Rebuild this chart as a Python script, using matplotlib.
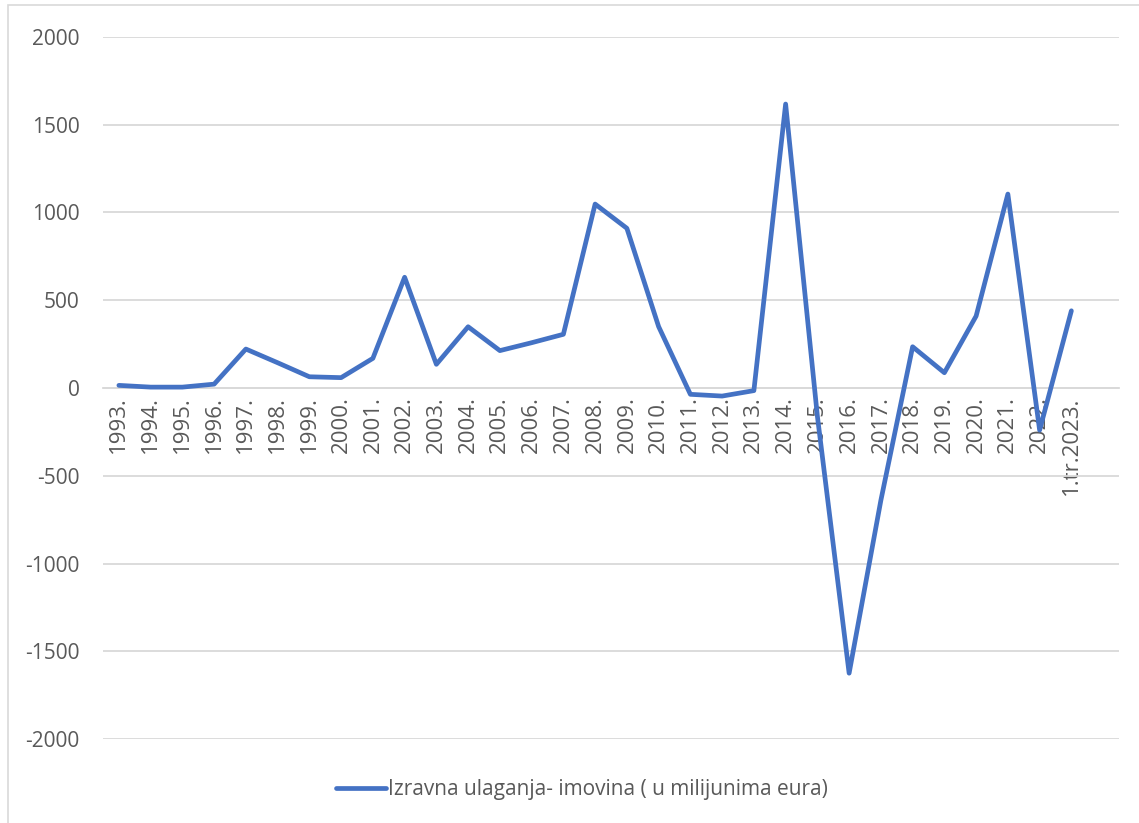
import matplotlib
matplotlib.use("Agg")
import matplotlib.pyplot as plt
from matplotlib.patches import Rectangle

categories = ["1993.", "1994.", "1995.", "1996.", "1997.", "1998.", "1999.", "2000.",
              "2001.", "2002.", "2003.", "2004.", "2005.", "2006.", "2007.", "2008.",
              "2009.", "2010.", "2011.", "2012.", "2013.", "2014.", "2015.", "2016.",
              "2017.", "2018.", "2019.", "2020.", "2021.", "2022.", "1.tr.2023."]
values = [15, 5, 5, 22, 222, 144, 64, 59, 169, 631, 135, 349, 213, 258, 306, 1048,
          910, 350, -36, -46, -15, 1618, -160, -1625, -640, 235, 87, 410, 1105, -240, 440]
series_name = "Izravna ulaganja- imovina ( u milijunima eura)"
yticks = [-2000, -1500, -1000, -500, 0, 500, 1000, 1500, 2000]

plt.rcParams['font.family'] = ['Open Sans', 'DejaVu Sans']
text_color = "#595959"
grid_color = "#D9D9D9"
line_color = "#4472C4"

W, H = 1139, 823
fig = plt.figure(figsize=(W / 100, H / 100), dpi=100)
fig.patches.append(Rectangle((8 / W, -0.01), 1.2, 1 - 5 / H + 0.01, transform=fig.transFigure,
                             fill=False, edgecolor=grid_color, linewidth=1.2))

ax = fig.add_axes([103 / W, 1 - 739 / H, (1119 - 103) / W, (739 - 37) / H])
x = list(range(len(categories)))
line, = ax.plot(x, values, color=line_color, linewidth=3.4, solid_joinstyle='round',
                solid_capstyle='round', label=series_name, zorder=3)

ax.set_ylim(-2000, 2000)
ax.set_xlim(-0.5, 31.5)
ax.set_yticks(yticks)
ax.set_yticklabels([str(v) for v in yticks])
ax.yaxis.grid(True, color=grid_color, linewidth=1.3)
ax.set_axisbelow(True)
for s in ['left', 'right', 'top']:
    ax.spines[s].set_visible(False)
ax.spines['bottom'].set_position(('data', 0))
ax.spines['bottom'].set_color(grid_color)
ax.spines['bottom'].set_linewidth(1.3)
ax.set_xticks(x)
ax.set_xticklabels(categories, rotation=90, va='top', ha='center')
ax.tick_params(axis='x', length=0, pad=6, labelsize=16, labelcolor=text_color)
ax.tick_params(axis='y', length=0, pad=17, labelsize=15, labelcolor=text_color)

fig.legend(handles=[line], loc='center', bbox_to_anchor=(582 / W, 1 - 790 / H),
           frameon=False, fontsize=15, labelcolor=text_color, handlelength=2.4,
           handletextpad=0.1)

fig.savefig("out.png", dpi=100)
